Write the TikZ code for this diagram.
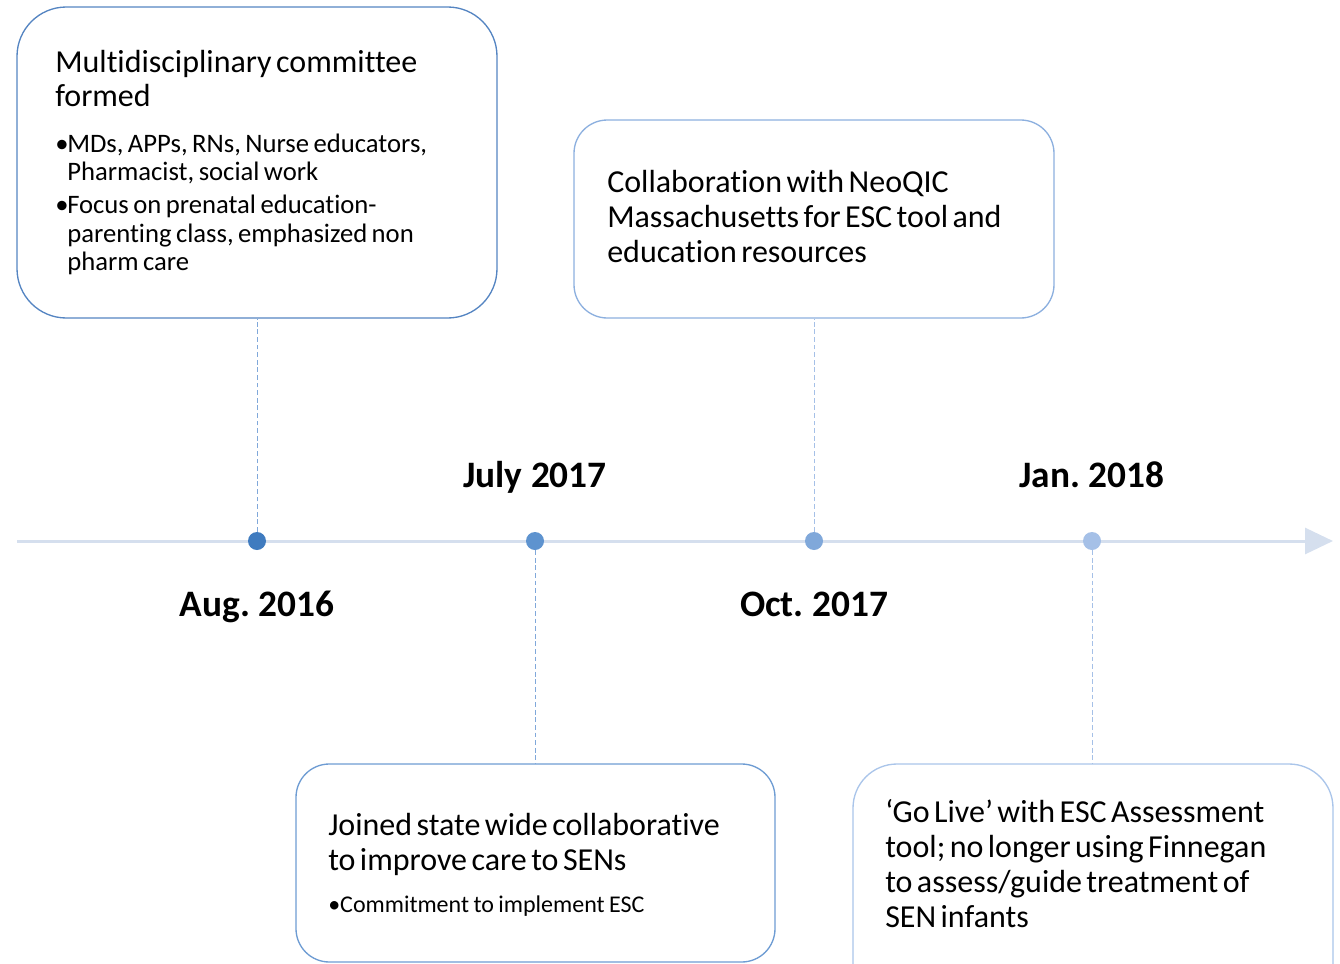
\documentclass[tikz,border=0pt]{standalone}
\usepackage{fontspec}
\setmainfont{Carlito}[Ligatures=NoCommon]
\frenchspacing
\usetikzlibrary{arrows.meta,positioning}
\definecolor{axisgrey}{HTML}{D5DFEE}
\definecolor{blueA}{HTML}{3F7BBF}
\definecolor{blueB}{HTML}{5E93CF}
\definecolor{blueC}{HTML}{80A8DA}
\definecolor{blueD}{HTML}{A5C0E7}
\definecolor{edgeA}{HTML}{5585C2}
\definecolor{edgeB}{HTML}{8DB0DF}
\definecolor{edgeC}{HTML}{6E9CD3}
\definecolor{edgeD}{HTML}{AAC5EA}
\newcommand\bitem[1]{\par\hangindent=9pt\hangafter=1\noindent\makebox[9pt][l]{•}#1\par}
\tikzset{
	event/.style={draw=#1,line width=1pt,fill=white},
	milestone/.style={circle,fill=#1,inner sep=0pt,minimum size=13.5pt},
	link/.style={draw=#1,dash pattern=on 3.5pt off 2.2pt,line width=0.75pt},
	date/.style={font=\fontsize{28}{32}\selectfont\bfseries\frenchspacing,anchor=base,inner sep=0pt},
	blurb/.style={text width=#1,align=left,inner sep=0pt,anchor=base west}
}
\begin{document}
\begin{tikzpicture}[x=0.75pt,y=-0.75pt]
	\clip (0,0) rectangle (1340,964);
	% time axis
	\coordinate (tl0) at (17,541);
	\coordinate (tl1) at (1333,541);
	\draw[axisgrey,line width=2.25pt,-{Triangle[length=21pt,width=19.5pt]}] (tl0)--(tl1);
	\node[milestone=blueA] (d1) at (257,541) {};
	\node[milestone=blueB] (d2) at (535,541) {};
	\node[milestone=blueC] (d3) at (814,541) {};
	\node[milestone=blueD] (d4) at (1092,541) {};
	% dates
	\node[date] (aug) at (257,616) {Aug. 2016};
	\node[date] (jul) at (535,487) {July 2017};
	\node[date] (oct) at (814,616) {Oct. 2017};
	\node[date] (jan) at (1092,487) {Jan. 2018};
	% boxes
	\node[event=edgeA,rounded corners=37pt,minimum width=360pt,minimum height=233.25pt] (b1) at (257,162.5) {};
	\node[event=edgeB,rounded corners=25pt,minimum width=360pt,minimum height=148.5pt] (b2) at (814,219) {};
	\node[event=edgeC,rounded corners=25pt,minimum width=359.25pt,minimum height=148.5pt] (b3) at (535.5,863) {};
	\node[event=edgeD,rounded corners=33pt,minimum width=360pt,minimum height=195pt] (b4) at (1093,894) {};
	\draw[link=blueC] (d1.north)--(d1 |- b1.south);
	\draw[link=blueC] (d2.south)--(d2 |- b3.north);
	\draw[link=blueD] (d3.north)--(d3 |- b2.south);
	\draw[link=blueD] (d4.south)--(d4 |- b4.north);
	% texts
	\node[blurb=330pt] (t1) at (55,72) {\fontsize{24}{25.5}\selectfont Multidisciplinary committee\newline formed\par
		\vspace{13.1pt}\fontsize{20}{21.4}\selectfont
		\bitem{MDs, APPs, RNs, Nurse educators,\newline Pharmacist, social work}\vspace{3.3pt}
		\bitem{Focus on prenatal education-\newline parenting class, emphasized non\newline pharm care}};
	\node[blurb=330pt] (t2) at (607,192) {\fontsize{24}{26.25}\selectfont Collaboration with NeoQIC\newline Massachusetts for ESC tool and\newline education resources\par};
	\node[blurb=330pt] (t3) at (328,835) {\fontsize{24}{26.25}\selectfont Joined state wide collaborative\newline to improve care to SENs\par
		\vspace{12.2pt}\fontsize{18}{19.3}\selectfont
		\bitem{Commitment to implement ESC}};
	\node[blurb=330pt] (t4) at (885,822) {\fontsize{24}{26.25}\selectfont ‘Go Live’ with ESC Assessment\newline tool; no longer using Finnegan\newline to assess/guide treatment of\newline SEN infants\par};
\end{tikzpicture}
\end{document}
